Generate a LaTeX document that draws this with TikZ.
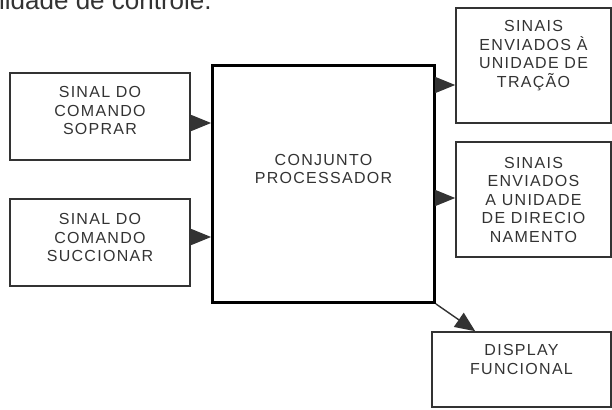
\documentclass[tikz,border=0pt]{standalone}
\usepackage{fontspec}
\usepackage{xcolor}
\usepackage{tikz}
\usetikzlibrary{positioning}
\usetikzlibrary{arrows.meta,shapes}
\usetikzlibrary{calc}
\newfontfamily\boxfont[LetterSpace=8]{Liberation Sans}
\newfontfamily\titlefont{Liberation Sans}
\definecolor{ink}{gray}{0.2}
\tikzstyle{block}=[rectangle,draw=ink,line width=1.6pt,inner sep=0pt]
\tikzstyle{bigblock}=[rectangle,draw=black,line width=2.8pt,inner sep=0pt]
\tikzstyle{txt}=[align=center,inner sep=0pt,text=ink,font=\boxfont\fontsize{16}{18.5}\selectfont]
\tikzstyle{edge} = [draw,line width=1.2pt,ink,-{Triangle[length=20pt,width=16pt]}]
\tikzstyle{smalledge} = [draw,line width=1.4pt,ink,-{Triangle[length=20pt,width=17pt]}]

\begin{document}
\begin{tikzpicture}[x=1pt,y=-1pt]

 \useasboundingbox (0,0) rectangle (612,409);

 % text cut at the top
 \node[anchor=base west,inner sep=0pt,text=ink,font=\titlefont\fontsize{26}{30}\selectfont] (title) at (-1,10) {lidade de controle.};

 %processor
 \node[bigblock, minimum width=222pt, minimum height=237pt] (proc) at (323.5,184) {};
 \node[txt] (proc-t) at ([yshift=15pt]proc.center) {CONJUNTO\\PROCESSADOR};

 %inputs and outputs
   \foreach \x/\y/\w/\h/\s/\name/\label in {
          100/116.5/180/87/6/sopr/{SINAL DO\\COMANDO\\SOPRAR},
          100/242.5/180/87/5/succ/{SINAL DO\\COMANDO\\SUCCIONAR},
          533.5/65.5/155/115/10/tracao/{SINAIS\\ENVIADOS \`A\\UNIDADE DE\\TRA\c{C}\~AO},
          533.5/199.5/155/115/0/direc/{SINAIS\\ENVIADOS\\A UNIDADE\\DE DIRECIO\\NAMENTO},
          521.5/369.5/179/75/10/disp/{DISPLAY\\FUNCIONAL}}
   {
          \node[block, minimum width=\w pt, minimum height=\h pt] (\name) at (\x,\y) {};
          \node[txt] (\name-t) at ([yshift=\s pt]\name.center) {\label};
   }

 %arrows
 \path[edge] ([yshift=-6.5pt]sopr.east) -- ([yshift=-6.5pt]sopr.east -| proc.west);
 \path[edge] ([yshift=5.5pt]succ.east) -- ([yshift=5.5pt]succ.east -| proc.west);
 \path[edge] (proc.east |- 0,85) -- (tracao.west |- 0,85);
 \path[edge] (proc.east |- 0,198) -- (direc.west |- 0,198);
 \coordinate (dispin) at ($(disp.north west)+(44,0)$);
 \path[smalledge] (proc.south east) -- (dispin);

\end{tikzpicture}
\end{document}
